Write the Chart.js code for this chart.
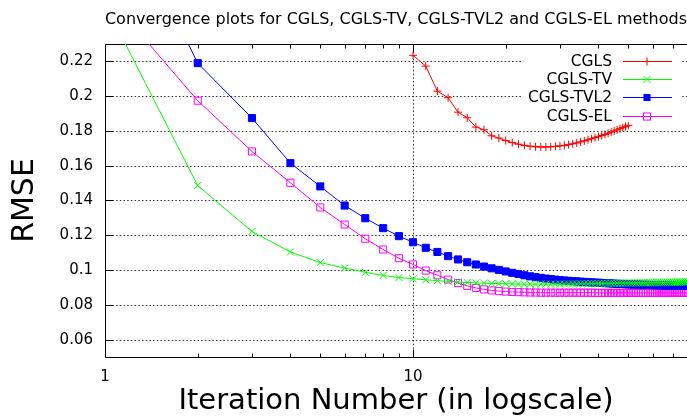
<!DOCTYPE html>
<html>
<head>
<meta charset="utf-8">
<title>Convergence plots</title>
<script src="https://cdn.jsdelivr.net/npm/chart.js@4/dist/chart.umd.min.js"></script>
<style>
  html, body { margin: 0; padding: 0; background: #fff; overflow: hidden; }
  #wrap { position: relative; width: 687px; height: 416px; }
</style>
</head>
<body>
<div id="wrap"><canvas id="convChart"></canvas></div>
<script>
// iteration numbers (x axis, log scale)
const iterations = [
  1, 2, 3, 4, 5, 6, 7, 8, 9, 10,
  11, 12, 13, 14, 15, 16, 17, 18, 19, 20,
  21, 22, 23, 24, 25, 26, 27, 28, 29, 30,
  31, 32, 33, 34, 35, 36, 37, 38, 39, 40,
  41, 42, 43, 44, 45, 46, 47, 48, 49, 50,
  51, 52, 53, 54, 55, 56, 57, 58, 59, 60,
  61, 62, 63, 64, 65, 66, 67, 68, 69, 70,
  71, 72, 73, 74, 75, 76, 77, 78, 79, 80
];
const cglsIterations = [
  10, 11, 12, 13, 14, 15, 16, 17, 18, 19, 20,
  21, 22, 23, 24, 25, 26, 27, 28, 29, 30,
  31, 32, 33, 34, 35, 36, 37, 38, 39, 40,
  41, 42, 43, 44, 45, 46, 47, 48, 49, 50
];

// RMSE values
const cgls = [
  0.2235, 0.2173, 0.2029, 0.1991, 0.1908, 0.1876, 0.1822, 0.1807, 0.1772, 0.1759, 0.1745,
  0.1733, 0.1724, 0.1717, 0.1712, 0.1709, 0.1708, 0.1708, 0.1709, 0.1711, 0.1714,
  0.1717, 0.1721, 0.1726, 0.1731, 0.1737, 0.1743, 0.1749, 0.1755, 0.1761, 0.1767,
  0.1774, 0.1780, 0.1787, 0.1793, 0.1800, 0.1806, 0.1813, 0.1819, 0.1826, 0.1832
];
const cglsTv = [
  0.2530, 0.1486, 0.1222, 0.1104, 0.1043, 0.1012, 0.0987, 0.0969, 0.0957, 0.0950,
  0.0944, 0.0939, 0.0935, 0.0931, 0.0928, 0.0926, 0.0924, 0.0923, 0.0922, 0.0921,
  0.0920, 0.0920, 0.0919, 0.0919, 0.0919, 0.0919, 0.0919, 0.0919, 0.0919, 0.0919,
  0.0920, 0.0920, 0.0920, 0.0920, 0.0921, 0.0921, 0.0921, 0.0922, 0.0922, 0.0922,
  0.0923, 0.0923, 0.0923, 0.0924, 0.0924, 0.0924, 0.0925, 0.0925, 0.0925, 0.0926,
  0.0926, 0.0926, 0.0926, 0.0927, 0.0927, 0.0927, 0.0927, 0.0928, 0.0928, 0.0928,
  0.0928, 0.0929, 0.0929, 0.0929, 0.0929, 0.0929, 0.0930, 0.0930, 0.0930, 0.0930,
  0.0930, 0.0931, 0.0931, 0.0931, 0.0931, 0.0931, 0.0931, 0.0932, 0.0932, 0.0932
];
const cglsTvl2 = [
  0.3270, 0.2190, 0.1874, 0.1615, 0.1481, 0.1371, 0.1298, 0.1241, 0.1195, 0.1160,
  0.1128, 0.1104, 0.1080, 0.1061, 0.1045, 0.1032, 0.1020, 0.1010, 0.1001, 0.0992,
  0.0984, 0.0977, 0.0970, 0.0964, 0.0959, 0.0955, 0.0951, 0.0948, 0.0945, 0.0942,
  0.0940, 0.0938, 0.0936, 0.0935, 0.0933, 0.0932, 0.0930, 0.0929, 0.0928, 0.0927,
  0.0926, 0.0925, 0.0924, 0.0923, 0.0922, 0.0921, 0.0920, 0.0920, 0.0919, 0.0918,
  0.0918, 0.0917, 0.0917, 0.0916, 0.0916, 0.0915, 0.0915, 0.0915, 0.0914, 0.0914,
  0.0913, 0.0913, 0.0913, 0.0912, 0.0912, 0.0912, 0.0911, 0.0911, 0.0911, 0.0911,
  0.0910, 0.0910, 0.0910, 0.0910, 0.0909, 0.0909, 0.0909, 0.0909, 0.0908, 0.0908
];
const cglsEl = [
  0.2595, 0.1974, 0.1682, 0.1502, 0.1360, 0.1262, 0.1180, 0.1118, 0.1068, 0.1032,
  0.0997, 0.0970, 0.0945, 0.0925, 0.0909, 0.0897, 0.0889, 0.0883, 0.0879, 0.0876,
  0.0874, 0.0873, 0.0872, 0.0871, 0.0871, 0.0870, 0.0870, 0.0870, 0.0870, 0.0870,
  0.0870, 0.0870, 0.0870, 0.0870, 0.0870, 0.0870, 0.0870, 0.0870, 0.0869, 0.0869,
  0.0869, 0.0869, 0.0869, 0.0869, 0.0869, 0.0869, 0.0869, 0.0869, 0.0869, 0.0869,
  0.0869, 0.0869, 0.0869, 0.0869, 0.0869, 0.0869, 0.0869, 0.0869, 0.0869, 0.0869,
  0.0869, 0.0869, 0.0869, 0.0869, 0.0869, 0.0869, 0.0869, 0.0869, 0.0869, 0.0869,
  0.0869, 0.0869, 0.0869, 0.0869, 0.0869, 0.0869, 0.0869, 0.0869, 0.0869, 0.0869
];

// axis ticks
const xMajorTicks = [1, 10];
const xMinorTicks = [2, 3, 4, 5, 6, 7, 8, 9, 20, 30, 40, 50, 60, 70];
const yTicks = [0.06, 0.08, 0.1, 0.12, 0.14, 0.16, 0.18, 0.2, 0.22];
const yTickLabels = ['0.06', '0.08', '0.1', '0.12', '0.14', '0.16', '0.18', '0.2', '0.22'];

const FONT = "'DejaVu Sans', 'Liberation Sans', sans-serif";

function toPoints(xs, ys) {
  return ys.map((y, i) => ({ x: xs[i], y: y }));
}

// gnuplot-like frame: dotted grid, border and inward ticks
const framePlugin = {
  id: 'frame',
  beforeDatasetsDraw(chart) {
    const { ctx, chartArea: a } = chart;
    const xs = chart.scales.x, ys = chart.scales.y;
    ctx.save();
    ctx.lineWidth = 1;
    ctx.strokeStyle = '#333';
    ctx.setLineDash([1.5, 2.2]);
    ctx.beginPath();
    yTicks.forEach(v => {
      const y = Math.round(ys.getPixelForValue(v)) + 0.5;
      ctx.moveTo(a.left, y);
      ctx.lineTo(a.right, y);
    });
    const x10 = Math.round(xs.getPixelForValue(10)) + 0.5;
    ctx.moveTo(x10, a.top);
    ctx.lineTo(x10, a.bottom);
    ctx.stroke();

    ctx.setLineDash([]);
    ctx.strokeStyle = '#000';
    const L = Math.round(a.left) + 0.5, T = Math.round(a.top) + 0.5, B = Math.round(a.bottom) + 0.5;
    ctx.beginPath();
    ctx.moveTo(a.right + 1, T);
    ctx.lineTo(L, T);
    ctx.lineTo(L, B);
    ctx.lineTo(a.right + 1, B);
    // y ticks
    yTicks.forEach(v => {
      const y = Math.round(ys.getPixelForValue(v)) + 0.5;
      ctx.moveTo(L, y);
      ctx.lineTo(L + 8, y);
    });
    // x ticks (bottom and top)
    xMajorTicks.forEach(v => {
      const x = Math.round(xs.getPixelForValue(v)) + 0.5;
      ctx.moveTo(x, B); ctx.lineTo(x, B - 8);
      ctx.moveTo(x, T); ctx.lineTo(x, T + 8);
    });
    xMinorTicks.forEach(v => {
      const x = Math.round(xs.getPixelForValue(v)) + 0.5;
      ctx.moveTo(x, B); ctx.lineTo(x, B - 4);
      ctx.moveTo(x, T); ctx.lineTo(x, T + 4);
    });
    ctx.stroke();
    ctx.restore();
  }
};

function drawMarker(ctx, style, r, x, y, color, filled) {
  ctx.strokeStyle = color;
  ctx.fillStyle = color;
  ctx.beginPath();
  if (style === 'cross') {
    ctx.moveTo(x - r, y); ctx.lineTo(x + r, y);
    ctx.moveTo(x, y - r); ctx.lineTo(x, y + r);
    ctx.stroke();
  } else if (style === 'crossRot') {
    const d = r * Math.SQRT1_2;
    ctx.moveTo(x - d, y - d); ctx.lineTo(x + d, y + d);
    ctx.moveTo(x - d, y + d); ctx.lineTo(x + d, y - d);
    ctx.stroke();
  } else {
    const s = r * Math.SQRT1_2;
    if (filled) ctx.fillRect(x - s, y - s, 2 * s, 2 * s);
    else ctx.strokeRect(x - s, y - s, 2 * s, 2 * s);
  }
}

// key in the top right corner, opaque like gnuplot's
const keyPlugin = {
  id: 'key',
  afterDatasetsDraw(chart) {
    const { ctx, chartArea: a } = chart;
    const W = chart.width;
    ctx.save();
    ctx.fillStyle = '#fff';
    ctx.fillRect(W - 165, a.top + 7, 160, 71);
    ctx.font = '15.5px ' + FONT;
    ctx.textAlign = 'right';
    ctx.textBaseline = 'middle';
    ctx.lineWidth = 1;
    chart.data.datasets.forEach((ds, i) => {
      const y = Math.round(a.top + 17 + i * 18.2) + 0.5;
      ctx.fillStyle = '#000';
      ctx.fillText(ds.label, W - 75, y);
      ctx.strokeStyle = ds.borderColor;
      ctx.beginPath();
      ctx.moveTo(W - 64, y);
      ctx.lineTo(W - 15, y);
      ctx.stroke();
      drawMarker(ctx, ds.pointStyle, ds.pointRadius, W - 40, y, ds.borderColor,
        ds.pointBackgroundColor !== 'transparent');
    });
    ctx.restore();
  }
};

const canvas = document.getElementById('convChart');
canvas.width = 687;
canvas.height = 416;
const ctx = canvas.getContext('2d');

new Chart(ctx, {
  type: 'line',
  data: {
    datasets: [
      {
        label: 'CGLS',
        data: toPoints(cglsIterations, cgls),
        borderColor: '#ff0000',
        pointStyle: 'cross',
        pointRadius: 4,
        pointBorderColor: '#ff0000',
        pointBackgroundColor: '#ff0000'
      },
      {
        label: 'CGLS-TV',
        data: toPoints(iterations, cglsTv),
        borderColor: '#00ff00',
        pointStyle: 'crossRot',
        pointRadius: 5,
        pointBorderColor: '#00ff00',
        pointBackgroundColor: '#00ff00'
      },
      {
        label: 'CGLS-TVL2',
        data: toPoints(iterations, cglsTvl2),
        borderColor: '#0000ff',
        pointStyle: 'rect',
        pointRadius: 5,
        pointBorderColor: '#0000ff',
        pointBackgroundColor: '#0000ff'
      },
      {
        label: 'CGLS-EL',
        data: toPoints(iterations, cglsEl),
        borderColor: '#ff00ff',
        pointStyle: 'rect',
        pointRadius: 5,
        pointBorderColor: '#ff00ff',
        pointBackgroundColor: 'transparent'
      }
    ]
  },
  options: {
    responsive: false,
    animation: false,
    devicePixelRatio: 1,
    layout: { padding: 0, autoPadding: false },
    elements: {
      line: { borderWidth: 1, tension: 0, fill: false },
      point: { borderWidth: 1, hoverRadius: 5 }
    },
    plugins: {
      legend: { display: false },
      tooltip: { enabled: false },
      title: {
        display: true,
        text: 'Convergence plots for CGLS, CGLS-TV, CGLS-TVL2 and CGLS-EL methods',
        align: 'end',
        color: '#000',
        font: { family: FONT, size: 16, weight: 'normal', lineHeight: 1.2 },
        padding: { top: 10, bottom: 14.8 }
      }
    },
    scales: {
      x: {
        type: 'logarithmic',
        min: 1,
        max: 77.56,
        grid: { display: false, drawTicks: false },
        border: { display: false },
        afterBuildTicks: (scale) => { scale.ticks = xMajorTicks.map(v => ({ value: v })); },
        afterFit: (scale) => { scale.height = 59; },
        ticks: {
          color: '#000',
          padding: 11,
          maxRotation: 0,
          autoSkip: false,
          font: { family: FONT, size: 15 },
          callback: (v) => String(v)
        },
        title: {
          display: true,
          text: 'Iteration Number (in logscale)',
          color: '#000',
          font: { family: FONT, size: 29, lineHeight: 1 },
          padding: { top: 0, bottom: 0 }
        }
      },
      y: {
        type: 'linear',
        min: 0.05,
        max: 0.23,
        grid: { display: false, drawTicks: false },
        border: { display: false },
        afterBuildTicks: (scale) => { scale.ticks = yTicks.map(v => ({ value: v })); },
        afterFit: (scale) => { scale.width = 105; },
        ticks: {
          color: '#000',
          padding: 12,
          autoSkip: false,
          font: { family: FONT, size: 15 },
          callback: (v) => yTickLabels[yTicks.findIndex(t => Math.abs(t - v) < 1e-9)]
        },
        title: {
          display: true,
          text: 'RMSE',
          color: '#000',
          font: { family: FONT, size: 30, lineHeight: 1 },
          padding: { top: 10, bottom: 0 }
        }
      }
    }
  },
  plugins: [framePlugin, keyPlugin]
});
</script>
</body>
</html>
